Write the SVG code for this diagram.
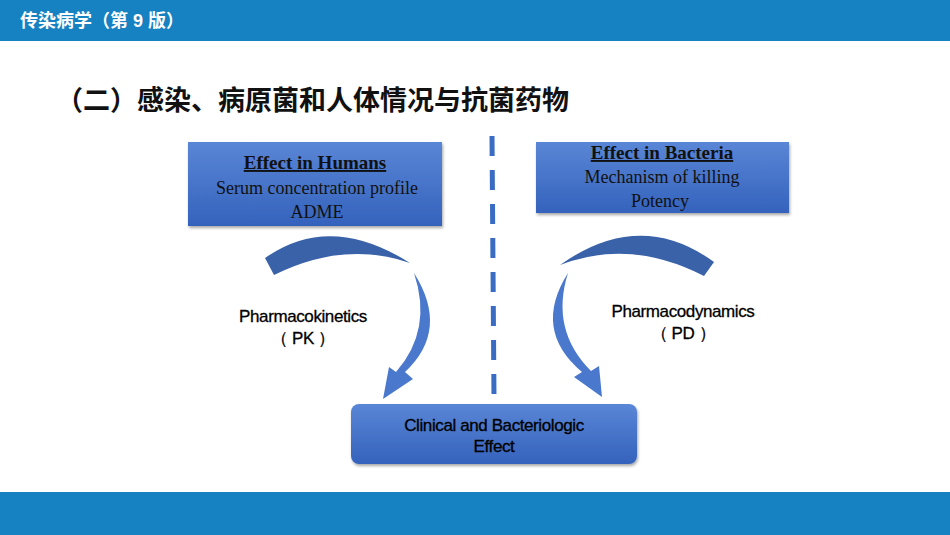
<svg xmlns="http://www.w3.org/2000/svg" width="950" height="535" viewBox="0 0 950 535">
<style>
.hd{font-family:"Liberation Sans","Noto Sans CJK SC",sans-serif;font-weight:bold}
.ser{font-family:"Liberation Serif",serif;font-size:18px;fill:#111;text-anchor:middle}
.ti{font-weight:bold;text-decoration:underline;font-size:19px}
.sans{font-family:"Liberation Sans",sans-serif;font-size:17px;fill:#000;text-anchor:middle;letter-spacing:-0.4px;stroke:#000;stroke-width:0.3}
.box{fill:url(#g);filter:url(#sh)}
.dark{fill:#3a62a8}
.lite{fill:#4a78cc}
</style>
<defs>
<linearGradient id="g" x1="0" y1="0" x2="0" y2="1"><stop offset="0" stop-color="#5a86d6"/><stop offset="1" stop-color="#3462bc"/></linearGradient>
<filter id="sh" x="-10%" y="-10%" width="120%" height="130%"><feDropShadow dx="1" dy="2" stdDeviation="1.5" flood-color="#000" flood-opacity="0.35"/></filter>
</defs>
<rect width="950" height="535" fill="#fff"/>
<rect x="0" y="0" width="950" height="41" fill="#1682c2"/>
<text x="20" y="27" class="hd" font-size="18" fill="#fff">传染病学（第 9 版）</text>
<rect x="0" y="492" width="950" height="43" fill="#1682c2"/>
<text x="56" y="110" class="hd" font-size="27" fill="#111">（二）感染、病原菌和人体情况与抗菌药物</text>
<g id="divider"><line x1="492" y1="136" x2="494" y2="398" stroke="#3a6cc4" stroke-width="5" stroke-dasharray="20,14"/></g>
<g id="humans"><rect class="box" x="188" y="142" width="254" height="84"/>
<text class="ser ti" x="315" y="169">Effect in Humans</text>
<text class="ser" x="317" y="194">Serum concentration profile</text>
<text class="ser" x="317" y="218">ADME</text></g>
<g id="bacteria"><rect class="box" x="536" y="142" width="253" height="71"/>
<text class="ser ti" x="662" y="159">Effect in Bacteria</text>
<text class="ser" x="662" y="183">Mechanism of killing</text>
<text class="ser" x="660" y="207">Potency</text></g>
<g id="effect"><rect class="box" x="351" y="404" width="286" height="60" rx="8"/>
<text class="sans" x="494" y="431">Clinical and Bacteriologic</text>
<text class="sans" x="494" y="452">Effect</text></g>
<g id="connectors">
<path class="dark" d="M265,258 Q330,212 410,263 Q345,240 274,275 Z"/>
<path class="lite" d="M414,273 Q450,330 405,372 L413,379 L383,399 L389,367 L396,372 Q433,330 414,273 Z"/>
<path class="dark" d="M714,262 Q640,208 560,265 Q630,238 704,276 Z"/>
<path class="lite" d="M568,273 Q532,330 582,372 L574,377 L602,397 L599,366 L591,371 Q550,330 568,273 Z"/>
</g>
<text class="sans" x="303" y="322">Pharmacokinetics</text>
<text class="sans" x="303" y="344">（ PK ）</text>
<text class="sans" x="683" y="317">Pharmacodynamics</text>
<text class="sans" x="683" y="339">（ PD ）</text>
</svg>
